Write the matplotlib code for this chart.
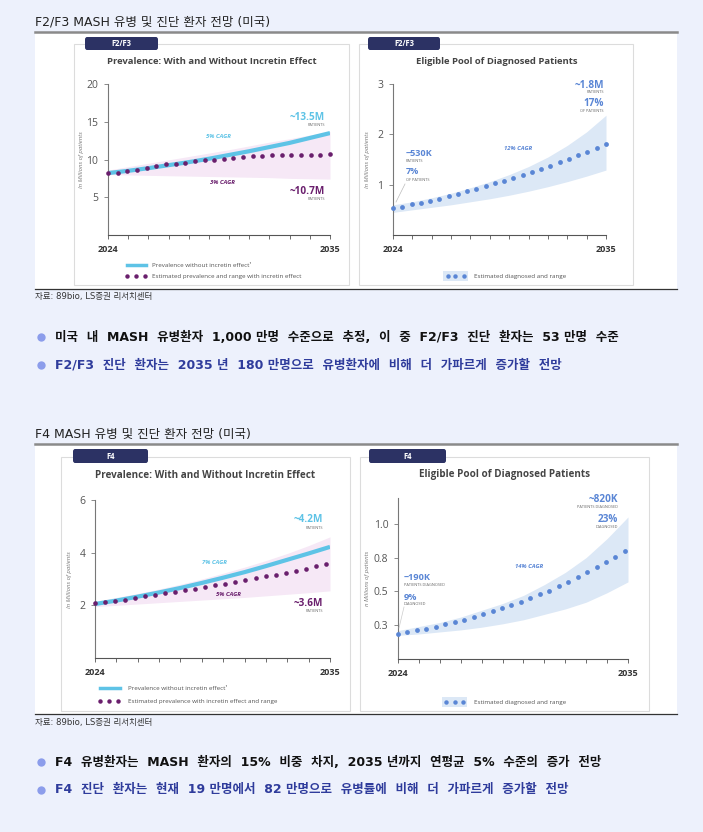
import numpy as np
import matplotlib
matplotlib.use("Agg")
import matplotlib.pyplot as plt
from matplotlib.patches import Rectangle, FancyBboxPatch
from matplotlib.lines import Line2D

# ---------------- data ----------------
years = [2024, 2025, 2026, 2027, 2028, 2029, 2030, 2031, 2032, 2033, 2034, 2035]

# F2/F3 prevalence
f23_no_incretin = [8.2, 8.5, 8.85, 9.25, 9.65, 10.1, 10.6, 11.1, 11.65, 12.2, 12.85, 13.5]
f23_band_hi = [8.6, 9.05, 9.5, 9.95, 10.4, 10.85, 11.3, 11.8, 12.3, 12.75, 13.25, 13.7]
f23_band_lo = [8.0, 7.95, 7.9, 7.85, 7.8, 7.75, 7.7, 7.65, 7.6, 7.5, 7.45, 7.4]
f23_incretin = [8.19, 8.27, 8.45, 8.67, 8.89, 9.12, 9.34, 9.47, 9.60, 9.78, 9.91, 10.0,
                10.13, 10.22, 10.31, 10.4, 10.49, 10.53, 10.58, 10.62, 10.63, 10.66, 10.66, 10.67]

# F2/F3 diagnosed
f23_diag = [0.53, 0.56, 0.61, 0.64, 0.68, 0.72, 0.77, 0.82, 0.87, 0.92, 0.97, 1.03,
            1.08, 1.14, 1.20, 1.26, 1.32, 1.38, 1.45, 1.51, 1.58, 1.64, 1.72, 1.80]
f23_diag_hi = [0.6, 0.66, 0.74, 0.83, 0.94, 1.06, 1.2, 1.36, 1.55, 1.78, 2.05, 2.38]
f23_diag_lo = [0.45, 0.5, 0.55, 0.6, 0.66, 0.72, 0.79, 0.87, 0.96, 1.06, 1.17, 1.29]

# F4 prevalence
f4_no_incretin = [2.05, 2.18, 2.33, 2.49, 2.66, 2.85, 3.05, 3.26, 3.49, 3.73, 3.97, 4.22]
f4_band_hi = [2.15, 2.3, 2.45, 2.62, 2.8, 3.0, 3.22, 3.45, 3.7, 3.97, 4.27, 4.6]
f4_band_lo = [1.95, 2.0, 2.05, 2.1, 2.15, 2.2, 2.25, 2.3, 2.36, 2.42, 2.48, 2.55]
f4_incretin = [2.09, 2.13, 2.18, 2.22, 2.28, 2.34, 2.39, 2.46, 2.51, 2.58, 2.63, 2.70,
               2.76, 2.82, 2.89, 2.95, 3.03, 3.10, 3.16, 3.24, 3.32, 3.39, 3.48, 3.56]

# F4 diagnosed
f4_diag = [0.187, 0.20, 0.212, 0.224, 0.239, 0.256, 0.273, 0.291, 0.31, 0.33, 0.352, 0.374,
           0.399, 0.421, 0.448, 0.478, 0.505, 0.537, 0.569, 0.606, 0.64, 0.677, 0.717, 0.756, 0.798]
f4_diag_hi = [0.21, 0.24, 0.27, 0.31, 0.36, 0.41, 0.47, 0.55, 0.64, 0.75, 0.89, 1.05]
f4_diag_lo = [0.175, 0.185, 0.2, 0.215, 0.235, 0.26, 0.29, 0.33, 0.37, 0.42, 0.49, 0.57]

f23_yticks = [5, 10, 15, 20]
f23d_yticks = [1, 2, 3]
f4_yticks = [2, 4, 6]
f4d_yticks = [0.25, 0.5, 0.75, 1.0]
f4d_yticklabels = ["0.3", "0.5", "0.8", "1.0"]

section_titles = ["F2/F3 MASH 유병 및 진단 환자 전망 (미국)", "F4 MASH 유병 및 진단 환자 전망 (미국)"]
source_text = "자료: 89bio, LS증권 리서치센터"
# '\u00a0' marks the narrow gap between a number and its unit
bullets_1 = ["미국 내 MASH 유병환자 1,000\u00a0만명 수준으로 추정, 이 중 F2/F3 진단 환자는 53\u00a0만명 수준",
             "F2/F3 진단 환자는 2035\u00a0년 180\u00a0만명으로 유병환자에 비해 더 가파르게 증가할 전망"]
bullets_2 = ["F4 유병환자는 MASH 환자의 15% 비중 차지, 2035\u00a0년까지 연평균 5% 수준의 증가 전망",
             "F4 진단 환자는 현재 19\u00a0만명에서 82\u00a0만명으로 유병률에 비해 더 가파르게 증가할 전망"]

# ---------------- styling ----------------
W, H = 703, 832
BG = "#EDF1FC"
NAVY = "#2C3264"
LBLUE = "#5EC3E6"
PURPLE = "#6A1F6D"
PINK = "#F6E8F6"
DBLUE = "#5A86D5"
BLUEBAND = "#DCE8F6"
KR = ["DejaVu Sans", "Noto Sans CJK KR"]
EN = ["Open Sans", "DejaVu Sans"]

fig = plt.figure(figsize=(W / 100, H / 100), dpi=100)
fig.patch.set_facecolor(BG)


def fx(x):
    return x / W


def fy(y):
    return 1 - y / H


def txt(x, y, s, **kw):
    kw.setdefault("family", EN)
    kw.setdefault("va", "center")
    fig.text(fx(x), fy(y), s, **kw)


def rect(x0, y0, x1, y1, **kw):
    kw.setdefault("zorder", -5)
    fig.add_artist(Rectangle((fx(x0), fy(y1)), (x1 - x0) / W, (y1 - y0) / H,
                             transform=fig.transFigure, **kw))


def hline(x0, x1, y, **kw):
    fig.add_artist(Line2D([fx(x0), fx(x1)], [fy(y), fy(y)], transform=fig.transFigure, **kw))


def dot(x, y, color, size=3.2):
    fig.add_artist(Line2D([fx(x)], [fy(y)], marker="o", markersize=size, color=color,
                          markeredgewidth=0, transform=fig.transFigure, linestyle="none"))


def tab(x0, y0, x1, y1, label):
    p = FancyBboxPatch((fx(x0), fy(y1)), (x1 - x0) / W, (y1 - y0) / H,
                       boxstyle="round,pad=0,rounding_size=0.003",
                       transform=fig.transFigure, facecolor=NAVY, edgecolor="none", zorder=-3)
    fig.add_artist(p)
    txt((x0 + x1) / 2, (y0 + y1) / 2 + 0.5, label, color="white", fontsize=5.5,
        weight="bold", ha="center")


def make_ax(x0, y_top, x1, y_bot, ylim, yticks, yticklabels=None):
    ax = fig.add_axes([fx(x0), fy(y_bot), (x1 - x0) / W, (y_bot - y_top) / H])
    ax.set_facecolor("none")
    ax.set_xlim(2024, 2035)
    ax.set_ylim(*ylim)
    for s in ["top", "right"]:
        ax.spines[s].set_visible(False)
    ax.spines["left"].set_color("#777777")
    ax.spines["bottom"].set_color("#555555")
    ax.spines["left"].set_linewidth(0.8)
    ax.spines["bottom"].set_linewidth(0.8)
    ax.set_xticks(years)
    ax.set_xticklabels(["2024"] + [""] * 10 + ["2035"])
    ax.tick_params(axis="x", direction="out", length=3, width=0.6, color="#555555",
                   labelsize=6.5, labelcolor="#333333", pad=4)
    for lab in ax.get_xticklabels():
        lab.set_fontweight("bold")
        lab.set_family(EN)
    ax.set_yticks(yticks)
    if yticklabels is not None:
        ax.set_yticklabels(yticklabels)
    ax.tick_params(axis="y", direction="out", length=3, width=0.6, color="#777777",
                   labelsize=7.5, labelcolor="#555555", pad=4)
    for lab in ax.get_yticklabels():
        lab.set_family(EN)
    return ax


def card(x0, y0, x1, y1):
    rect(x0, y0, x1, y1, facecolor="white", edgecolor="#DCDCDC", linewidth=0.8, zorder=-4)


def ylab(x, y, s="In Millions of patients"):
    txt(x, y, s, rotation=90, ha="center", fontsize=4.3, style="italic", color="#777777")


def bullet(y, s, color):
    dot(41, y, "#8C9DEB", size=6.0)
    s = s.replace(" ", "  ").replace("\u00a0", " ")
    txt(55, y, s, family=KR, fontsize=9.0, weight="bold", color=color)


def section(y_off, title, panel_bottom):
    txt(35, 22 + y_off, title, family=KR, fontsize=9.0, color="#222222")
    hline(35, 677, 32 + y_off, color="#8A8A8A", linewidth=1.8)
    rect(35, 33 + y_off, 677, panel_bottom, facecolor="white", edgecolor="none", zorder=-6)
    hline(35, 677, panel_bottom, color="#333333", linewidth=0.9)


# ================= Section 1 =================
section(0, section_titles[0], 289)

# left card
card(74, 44, 349, 285)
tab(85, 37, 158, 50, "F2/F3")
txt(212, 62, "Prevalence: With and Without Incretin Effect", ha="center", fontsize=6.8,
    weight="bold", color="#444444")
ax1 = make_ax(108, 84, 330, 235, (0, 20), f23_yticks)
ax1.fill_between(years, f23_band_lo, f23_band_hi, color=PINK, lw=0, zorder=1)
ax1.plot(years, f23_no_incretin, color=LBLUE, lw=3, zorder=2, solid_capstyle="butt")
ax1.scatter(np.linspace(2024, 2035, len(f23_incretin)), f23_incretin, s=11, color=PURPLE,
            zorder=3, linewidths=0, clip_on=False)
ylab(81, 160)
txt(218, 136, "5% CAGR", ha="center", fontsize=4.3, style="italic", weight="bold", color=LBLUE)
txt(222, 182, "3% CAGR", ha="center", fontsize=4.3, style="italic", weight="bold", color=PURPLE)
txt(325, 117, "~13.5M", ha="right", fontsize=7.2, weight="bold", color=LBLUE)
txt(325, 125.5, "PATIENTS", ha="right", fontsize=2.8, color="#666666")
txt(325, 191, "~10.7M", ha="right", fontsize=7.2, weight="bold", color=PURPLE)
txt(325, 199.5, "PATIENTS", ha="right", fontsize=2.8, color="#666666")
hline(127, 146, 265, color=LBLUE, linewidth=2.5)
txt(152, 265.5, "Prevalence without incretin effect¹", fontsize=4.5, color="#555555")
for xx in (127, 136, 145):
    dot(xx, 276, PURPLE)
txt(152, 276.5, "Estimated prevalence and range with incretin effect", fontsize=4.5, color="#555555")

# right card
card(359, 44, 633, 285)
tab(368, 37, 440, 50, "F2/F3")
txt(497, 62, "Eligible Pool of Diagnosed Patients", ha="center", fontsize=6.8,
    weight="bold", color="#444444")
ax2 = make_ax(393, 84, 606, 235, (0, 3), f23d_yticks)
ax2.fill_between(years, f23_diag_lo, f23_diag_hi, color=BLUEBAND, lw=0, zorder=1)
ax2.scatter(np.linspace(2024, 2035, len(f23_diag)), f23_diag, s=12, color=DBLUE, zorder=3,
            linewidths=0, clip_on=False)
ylab(368, 160)
txt(406, 154, "~530K", fontsize=6.6, weight="bold", color=DBLUE)
txt(406, 161.5, "PATIENTS", fontsize=2.8, color="#666666")
txt(406, 172, "7%", fontsize=6.6, weight="bold", color=DBLUE)
txt(406, 180, "OF PATIENTS", fontsize=2.8, color="#666666")
fig.add_artist(Line2D([fx(405), fx(396)], [fy(184), fy(202)], transform=fig.transFigure,
                      color="#BBBBBB", linewidth=0.5))
txt(518, 148, "12% CAGR", ha="center", fontsize=4.3, style="italic", weight="bold", color=DBLUE)
txt(604, 85, "~1.8M", ha="right", fontsize=7.2, weight="bold", color=DBLUE)
txt(604, 92, "PATIENTS", ha="right", fontsize=2.8, color="#666666")
txt(604, 104, "17%", ha="right", fontsize=7.2, weight="bold", color=DBLUE)
txt(604, 111, "OF PATIENTS", ha="right", fontsize=2.8, color="#666666")
rect(443, 271, 468, 281, facecolor=BLUEBAND, edgecolor="none", zorder=-2)
for xx in (447.5, 455.5, 463.5):
    dot(xx, 276, DBLUE)
txt(474, 276.5, "Estimated diagnosed and range", fontsize=4.5, color="#555555")

txt(35, 297, source_text, family=KR, fontsize=6.1, color="#333333")

bullet(337, bullets_1[0], "#111111")
bullet(365, bullets_1[1], "#2F3C9C")

# ================= Section 2 =================
section(412, section_titles[1], 714)

card(61, 457, 350, 711)
tab(73, 449, 148, 463, "F4")
txt(205, 476, "Prevalence: With and Without Incretin Effect", ha="center", fontsize=7.1,
    weight="bold", color="#444444")
ax3 = make_ax(95, 500, 330, 658, (0, 6), f4_yticks)
ax3.fill_between(years, f4_band_lo, f4_band_hi, color=PINK, lw=0, zorder=1)
ax3.plot(years, f4_no_incretin, color=LBLUE, lw=3, zorder=2, solid_capstyle="butt")
ax3.scatter(np.linspace(2024, 2034.8, len(f4_incretin)), f4_incretin, s=11, color=PURPLE,
            zorder=3, linewidths=0, clip_on=False)
ylab(70, 580)
txt(214, 562, "7% CAGR", ha="center", fontsize=4.3, style="italic", weight="bold", color=LBLUE)
txt(228, 594, "5% CAGR", ha="center", fontsize=4.3, style="italic", weight="bold", color=PURPLE)
txt(323, 519, "~4.2M", ha="right", fontsize=7.2, weight="bold", color=LBLUE)
txt(323, 528, "PATIENTS", ha="right", fontsize=2.8, color="#666666")
txt(323, 603, "~3.6M", ha="right", fontsize=7.2, weight="bold", color=PURPLE)
txt(323, 611.5, "PATIENTS", ha="right", fontsize=2.8, color="#666666")
hline(100, 120, 688, color=LBLUE, linewidth=2.5)
txt(128, 688.5, "Prevalence without incretin effect¹", fontsize=4.5, color="#555555")
for xx in (100, 109, 118):
    dot(xx, 701, PURPLE)
txt(128, 701.5, "Estimated prevalence with incretin effect and range", fontsize=4.5, color="#555555")

card(360, 457, 649, 711)
tab(369, 449, 446, 463, "F4")
txt(505, 475, "Eligible Pool of Diagnosed Patients", ha="center", fontsize=7.1,
    weight="bold", color="#444444")
ax4 = make_ax(398, 498, 628, 659, (0, 1.19), f4d_yticks, f4d_yticklabels)
ax4.fill_between(years, f4_diag_lo, f4_diag_hi, color=BLUEBAND, lw=0, zorder=1)
ax4.scatter(np.linspace(2024, 2034.85, len(f4_diag)), f4_diag, s=12, color=DBLUE, zorder=3,
            linewidths=0, clip_on=False)
ylab(368, 578, "n Millions of patients")
txt(404, 577, "~190K", fontsize=6.6, weight="bold", color=DBLUE)
txt(404, 585, "PATIENTS DIAGNOSED", fontsize=2.8, color="#666666")
txt(404, 597, "9%", fontsize=6.6, weight="bold", color=DBLUE)
txt(404, 604, "DIAGNOSED", fontsize=2.8, color="#666666")
fig.add_artist(Line2D([fx(404), fx(399)], [fy(607), fy(628)], transform=fig.transFigure,
                      color="#CCCCCC", linewidth=0.5))
txt(529, 566, "14% CAGR", ha="center", fontsize=4.3, style="italic", weight="bold", color=DBLUE)
txt(618, 500, "~820K", ha="right", fontsize=7.2, weight="bold", color=DBLUE)
txt(618, 507.5, "PATIENTS DIAGNOSED", ha="right", fontsize=2.8, color="#666666")
txt(618, 519, "23%", ha="right", fontsize=7.2, weight="bold", color=DBLUE)
txt(618, 527, "DIAGNOSED", ha="right", fontsize=2.8, color="#666666")
rect(442, 697, 467, 707, facecolor=BLUEBAND, edgecolor="none", zorder=-2)
for xx in (446, 454.5, 463):
    dot(xx, 702, DBLUE)
txt(474, 702.5, "Estimated diagnosed and range", fontsize=4.5, color="#555555")

txt(35, 723, source_text, family=KR, fontsize=6.1, color="#333333")

bullet(762, bullets_2[0], "#111111")
bullet(790, bullets_2[1], "#2F3C9C")

fig.savefig("out.png", dpi=100, facecolor=BG)
